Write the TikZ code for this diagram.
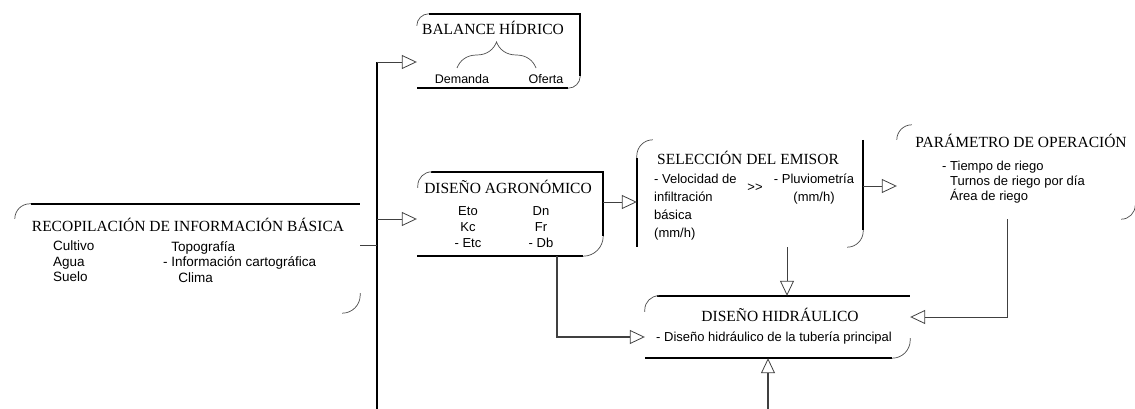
\documentclass[tikz,border=0pt]{standalone}
\usepackage{fontspec}
\setmainfont{Liberation Serif}
\newfontfamily\arialfont{Liberation Sans}
\usetikzlibrary{arrows.meta,calc,positioning,decorations.pathreplacing}
\tikzset{
  boxframe/.style={rectangle,draw=none,inner sep=0pt},
  rim/.style={draw=black,line width=1.6pt},
  crv/.style={draw=black!70,line width=0.7pt},
  ttl/.style={font=\fontsize{15.5}{17}\selectfont,inner sep=0pt},
  itm/.style={font=\arialfont\fontsize{13}{16}\selectfont,align=left,inner sep=0pt,anchor=north west},
  wire/.style={draw=black!75,line width=0.8pt},
  link/.style={wire,-{Triangle[open,length=15pt,width=14pt,line width=0.8pt]}},
  trunk/.style={draw=black,line width=1.6pt},
}
\begin{document}
\begin{tikzpicture}[x=1pt,y=-1pt]
\path[use as bounding box] (0,0) rectangle (1135,409);

% recopilacion
\node[boxframe,minimum width=345pt,minimum height=109pt] (recop) at (187.5,258.5) {};
\node[ttl] (recopttl) at (188,225) {RECOPILACIÓN DE INFORMACIÓN BÁSICA};
\node[itm,font=\arialfont\fontsize{13.5}{15.5}\selectfont] (recopa) at (53,241) {Cultivo\\Agua\\Suelo};
\node[itm,font=\arialfont\fontsize{13.5}{15.5}\selectfont] (recopb) at (163,241) {\phantom{- }Topografía\\- Información cartográfica\\\phantom{- }\hspace{7pt}Clima};
\draw[rim] ($(recop.north west)+(16,0)$) -- (recop.north east);
\draw[crv,rounded corners=15pt] ($(recop.north west)+(0,15)$) |- ($(recop.north west)+(16,0)$);
\draw[crv,rounded corners=18pt] ($(recop.south east)+(0,-20)$) |- ($(recop.south east)+(-18,0)$);

% balance hidrico
\node[boxframe,minimum width=163pt,minimum height=74pt] (bal) at (498.5,51) {};
\node[ttl] (balttl) at (493,28) {BALANCE HÍDRICO};
\node[itm,anchor=north,font=\arialfont\fontsize{12.5}{15}\selectfont] (dem) at (462,74) {Demanda};
\node[itm,anchor=north,font=\arialfont\fontsize{12.5}{15}\selectfont] (ofe) at (546,74) {Oferta};
\draw[crv,decorate,decoration={brace,amplitude=26pt}] ($(dem.north)+(-5,-6)$) -- ($(ofe.north)+(-10,-6)$);
\draw[rim] ($(bal.north west)+(12,0)$) -- (bal.north east) -- ($(bal.south east)+(0,-12)$);
\draw[rim] ($(bal.south east)+(-12,0)$) -- (bal.south west);
\draw[crv,rounded corners=12pt] ($(bal.north west)+(0,12)$) |- ($(bal.north west)+(12,0)$);
\draw[crv,rounded corners=12pt] ($(bal.south east)+(0,-12)$) |- ($(bal.south east)+(-12,0)$);

% diseno agronomico
\node[boxframe,minimum width=186pt,minimum height=84pt] (agro) at (510,214) {};
\node[ttl] (agrottl) at (508,187) {DISEÑO AGRONÓMICO};
\node[itm,align=center,anchor=north] (agroa) at (468,206) {Eto\\Kc\\- Etc};
\node[itm,align=center,anchor=north] (agrob) at (541,206) {Dn\\Fr\\- Db};
\draw[rim] ($(agro.north west)+(14,0)$) -- (agro.north east) -- ($(agro.south east)+(0,-20)$);
\draw[rim] ($(agro.south east)+(-20,0)$) -- (agro.south west);
\draw[crv,rounded corners=14pt] ($(agro.north west)+(1,16)$) |- ($(agro.north west)+(15,0)$);
\draw[crv,rounded corners=20pt] ($(agro.south east)+(0,-20)$) |- ($(agro.south east)+(-20,0)$);

% seleccion del emisor
\node[boxframe,minimum width=226pt,minimum height=107pt] (sel) at (750,193.5) {};
\node[ttl] (selttl) at (748,158) {SELECCIÓN DEL EMISOR};
\node[itm,font=\arialfont\fontsize{13}{18}\selectfont] (sela) at (654,174) {- Velocidad de\\infiltración\\básica\\(mm/h)};
\node[itm,anchor=center] (selmid) at (755,188) {>>};
\node[itm,align=center,anchor=north,font=\arialfont\fontsize{13}{18}\selectfont] (selb) at (814,174) {- Pluviometría\\(mm/h)};
\draw[rim] ($(sel.north west)+(0,18)$) -- (sel.south west);
\draw[rim] (sel.north east) -- ($(sel.south east)+(0,-17)$);
\draw[crv,rounded corners=16pt] ($(sel.north west)+(0,18)$) |- ($(sel.north west)+(16,0)$);
\draw[crv,rounded corners=16pt] ($(sel.south east)+(0,-17)$) |- ($(sel.south east)+(-16,0)$);

% parametro de operacion
\node[boxframe,minimum width=238pt,minimum height=94pt] (par) at (1016,172) {};
\node[ttl] (parttl) at (1021,141) {PARÁMETRO DE OPERACIÓN};
\node[itm,font=\arialfont\fontsize{13}{15}\selectfont] (para) at (942,161) {- Tiempo de riego\\\phantom{- }Turnos de riego por día\\\phantom{- }Área de riego};
\draw[crv,rounded corners=15pt] ($(par.north west)+(0,15)$) |- ($(par.north west)+(15,0)$);
\draw[crv,rounded corners=14pt] ($(par.south east)+(0,-14)$) |- ($(par.south east)+(-14,0)$);

% diseno hidraulico
\node[boxframe,minimum width=265pt,minimum height=62pt] (hid) at (777.5,327) {};
\node[ttl] (hidttl) at (780,315) {DISEÑO HIDRÁULICO};
\node[itm,anchor=center] (hida) at (774,338) {- Diseño hidráulico de la tubería principal};
\draw[rim] ($(hid.north west)+(12,0)$) -- (hid.north east);
\draw[rim] ($(hid.south east)+(-18,0)$) -- (hid.south west);
\draw[crv,rounded corners=14pt] ($(hid.north west)+(0,16)$) |- ($(hid.north west)+(12,0)$);
\draw[crv,rounded corners=18pt] ($(hid.south east)+(0,-20)$) |- ($(hid.south east)+(-18,0)$);

% connectors
\coordinate (trunktop) at (377,62);
\coordinate (trunkbot) at (377,409);
\coordinate (hidbot) at (768,409);
\draw[trunk] (trunktop) -- (trunkbot);
\draw[link] (trunktop) -- (trunktop -| bal.west);
\draw[wire] ($(recop.east)+(0,-13.5)$) coordinate (r1) -- (r1 -| trunktop);
\draw[link] ($(agro.west)+(0,5)$) coordinate (a0) (trunktop |- a0) -- (a0);
\draw[link] ($(agro.east)+(0,-12)$) coordinate (a1) -- (a1 -| sel.west);
\draw[link] ($(sel.east)+(0,-7.5)$) coordinate (s1) -- (s1 -| par.west);
\draw[link] ($(sel.south)+(37,0)$) coordinate (s2) -- (s2 |- hid.north);
\draw[link] ($(par.south)+(-9,0)$) |- ($(hid.east)+(0,-10)$);
\draw[link,line width=1.2pt] ($(agro.south)+(47,0)$) |- ($(hid.west)+(0,10)$);
\draw[link,line width=1.6pt] (hidbot) -- (hidbot |- hid.south);
\end{tikzpicture}
\end{document}
